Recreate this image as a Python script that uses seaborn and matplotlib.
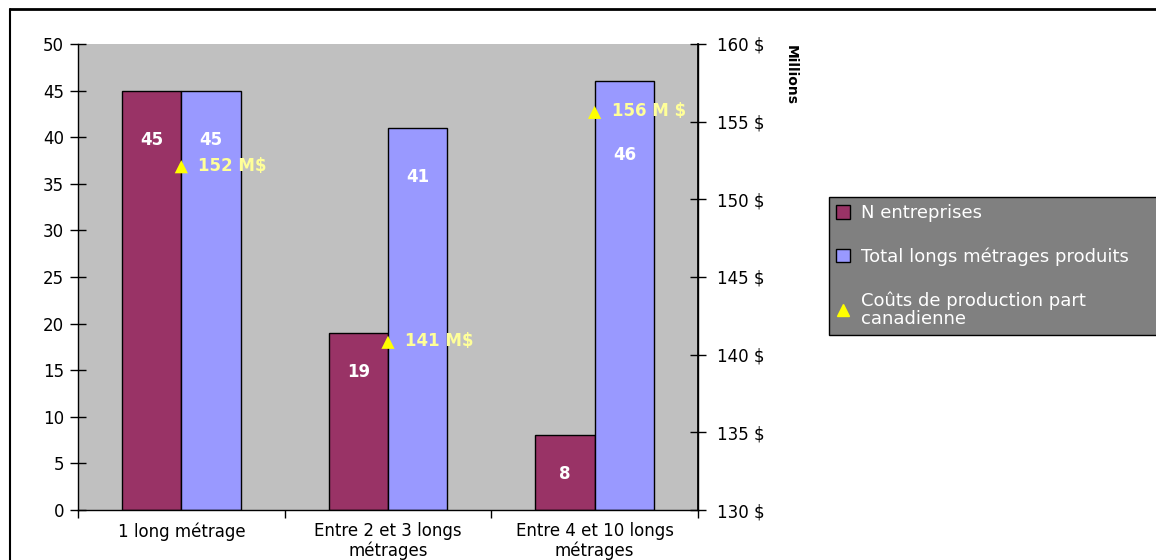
import numpy as np
import pandas as pd
import matplotlib
matplotlib.use("Agg")
import matplotlib.pyplot as plt
from matplotlib.patches import Patch
from matplotlib.lines import Line2D
import seaborn as sns

# Data
categories = ["1 long métrage", "Entre 2 et 3 longs\nmétrages", "Entre 4 et 10 longs\nmétrages"]
n_entreprises = [45, 19, 8]
total_longs = [45, 41, 46]
couts_millions = [152.1, 140.8, 155.6]
couts_suffix = [" M$", " M$", " M $"]
series_names = ["N entreprises", "Total longs métrages produits"]
cout_name = "Coûts de production part\ncanadienne"
left_ticks = list(range(0, 51, 5))
right_ticks = list(range(130, 161, 5))

# Label offsets below bar tops (pixels), per series
label_drop = [[49, 39, 39], [49, 49, 74]]

sns.set_theme(style="white")
plt.rcParams["font.family"] = ["DejaVu Sans"]
plt.rcParams["text.color"] = "black"
plt.rcParams["xtick.color"] = "black"
plt.rcParams["ytick.color"] = "black"
plt.rcParams["xtick.labelcolor"] = "black"
plt.rcParams["ytick.labelcolor"] = "black"

maroon = "#993366"
lilac = "#9999FF"
yellow = "#FFFF00"
pale_yellow = "#FFFF99"
FS = 12

df = pd.DataFrame({
    "cat": categories * 2,
    "serie": [series_names[0]] * 3 + [series_names[1]] * 3,
    "val": n_entreprises + total_longs,
})

fig = plt.figure(figsize=(11.56, 5.6), dpi=100)
ax = fig.add_axes([78 / 1156, 50 / 560, 620 / 1156, 466 / 560])
ax.set_facecolor("#C0C0C0")

sns.barplot(data=df, x="cat", y="val", hue="serie", order=categories,
            hue_order=series_names, palette=[maroon, lilac], width=0.575,
            edgecolor="black", linewidth=1.0, saturation=1, legend=False, ax=ax)

ax.set_xlim(-0.5, 2.5)
ax.set_ylim(0, 50)
ax.set_yticks(left_ticks)
ax.set_xlabel("")
ax.set_ylabel("")
ax.tick_params(axis="y", direction="inout", length=12, width=1, colors="black",
               labelsize=FS, pad=4, left=True)
ax.set_xticks([-0.5, 0.5, 1.5, 2.5], minor=False)
ax.set_xticklabels([])
ax.set_xticks([0, 1, 2], minor=True)
ax.set_xticklabels(categories, minor=True, fontsize=FS, linespacing=1.05,
                   color="black")
ax.tick_params(axis="x", which="major", direction="out", length=6, width=1,
               colors="black", bottom=True)
ax.tick_params(axis="x", which="minor", length=0, pad=9, labelcolor="black")
for side in ["left", "bottom", "right"]:
    ax.spines[side].set_color("black")
    ax.spines[side].set_linewidth(1.0)
ax.spines["top"].set_visible(False)

# Value labels inside bars
for ci, cont in enumerate(ax.containers):
    vals = n_entreprises if ci == 0 else total_longs
    for bi, bar in enumerate(cont):
        xc = bar.get_x() + bar.get_width() / 2
        ax.annotate(f"{vals[bi]}", (xc, bar.get_height()),
                    xytext=(0, -label_drop[ci][bi]), textcoords="offset pixels",
                    ha="center", va="center", color="white",
                    fontweight="bold", fontsize=FS)

# Secondary axis: production costs
ax2 = ax.twinx()
ax2.set_ylim(130, 160)
ax2.set_yticks(right_ticks)
ax2.set_yticklabels([f"{t} $" for t in right_ticks])
sns.scatterplot(x=np.arange(3), y=couts_millions, marker="^", color=yellow,
                s=90, edgecolor="none", ax=ax2, zorder=5)
for i, v in enumerate(couts_millions):
    ax2.annotate(f"{v:.0f}{couts_suffix[i]}", (i, v), xytext=(17, 1),
                 textcoords="offset pixels", ha="left", va="center",
                 color=pale_yellow, fontweight="bold", fontsize=FS)
ax2.set_xlim(-0.5, 2.5)
ax2.tick_params(axis="y", direction="inout", length=12, width=1, colors="black",
                labelsize=FS, pad=8, right=True)
ax2.spines["top"].set_visible(False)
ax2.spines["right"].set_color("black")
ax2.spines["left"].set_visible(False)
ax2.spines["bottom"].set_visible(False)
ax2.set_ylabel("")
fig.text(791 / 1156, 1 - 75 / 560, "Millions", rotation=270, ha="center",
         va="center", fontsize=10, fontweight="bold", color="black")

# Legend (box runs off the right edge of the figure)
handles = [
    Patch(facecolor=maroon, edgecolor="black", linewidth=1),
    Patch(facecolor=lilac, edgecolor="black", linewidth=1),
    Line2D([], [], marker="^", color=yellow, linestyle="none", markersize=8),
]
leg = fig.legend(handles, series_names + [cout_name],
                 loc="upper left",
                 bbox_to_anchor=(829 / 1156, 1 - 197 / 560, 345 / 1156, 0),
                 mode="expand",
                 frameon=True, fontsize=13, handlelength=0.75, handleheight=0.75,
                 handletextpad=0.6, labelspacing=1.4, borderpad=0.4,
                 borderaxespad=0, fancybox=False)
frame = leg.get_frame()
frame.set_facecolor("#808080")
frame.set_edgecolor("black")
frame.set_linewidth(1.0)
frame.set_alpha(1)
for t in leg.get_texts():
    t.set_color("white")
    t.set_linespacing(1.0)

# Outer frame lines
fig.add_artist(Line2D([10 / 1156, 10 / 1156], [0, 1 - 9 / 560], color="black",
                      linewidth=1.5, transform=fig.transFigure))
fig.add_artist(Line2D([10 / 1156, 1], [1 - 9 / 560, 1 - 9 / 560], color="black",
                      linewidth=2, transform=fig.transFigure))

fig.savefig("out.png", dpi=100, facecolor="white")
